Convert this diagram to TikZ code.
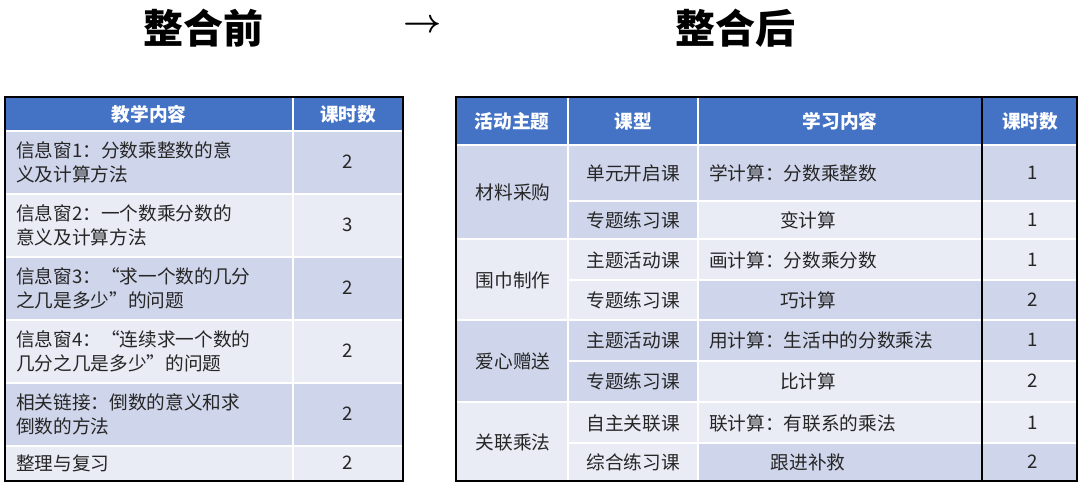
\documentclass[tikz,border=0pt]{standalone}
\usepackage{amsmath}
\usepackage{fontspec}
\setmainfont{Noto Sans CJK SC}
\definecolor{headblue}{HTML}{4472C4}
\definecolor{rowdark}{HTML}{CFD5EA}
\definecolor{rowlight}{HTML}{E9EBF5}
\definecolor{inktext}{HTML}{262626}
\tikzset{
  title/.style={font=\fontsize{30}{32}\selectfont\bfseries},
  head/.style={text=white,font=\fontsize{14}{16}\selectfont\bfseries},
  cell/.style={text=inktext,font=\fontsize{14}{18}\selectfont,inner sep=0pt},
  leftcell/.style={cell,anchor=west,align=left},
  sep/.style={white,line width=1.5pt},
  frame/.style={black,line width=1.6pt}
}
\begin{document}
\begin{tikzpicture}[x=0.75pt,y=-0.75pt]
	\useasboundingbox (0,0) rectangle (1080,488);

	% titles
	\node [title] (before) at (203,28) {整合前};
	\node [title] (arrow) at (423,26) {$\boldsymbol{\rightarrow}$};
	\node [title] (after) at (735,28) {整合后};

	% left table
	\fill [headblue] (5,97) rectangle (403,131);
	\foreach \ya/\yb/\c in {131/194/rowdark,194/257/rowlight,257/320/rowdark,320/383/rowlight,383/446/rowdark,446/481/rowlight}
		\fill [\c] (5,\ya) rectangle (403,\yb);
	\foreach \y in {131,194,257,320,383,446}
		\draw [sep] (5,\y) -- (403,\y);
	\draw [sep] (293,97) -- (293,481);
	\draw [frame] (5,97) rectangle (403,481);

	\node [head] (lh1) at (149,114) {教学内容};
	\node [head] (lh2) at (348,114) {课时数};
	\node [leftcell] (l1) at (16,162) {信息窗1：分数乘整数的意\\义及计算方法};
	\node [leftcell] (l2) at (16,225) {信息窗2：一个数乘分数的\\意义及计算方法};
	\node [leftcell] (l3) at (16,288) {信息窗3：“求一个数的几分\\之几是多少”的问题};
	\node [leftcell] (l4) at (16,351) {信息窗4：“连续求一个数的\\几分之几是多少”的问题};
	\node [leftcell] (l5) at (16,414) {相关链接：倒数的意义和求\\倒数的方法};
	\node [leftcell] (l6) at (16,463) {整理与复习};
	\foreach \y/\n [count=\i] in {162/2,225/3,288/2,351/2,414/2,463/2}
		\node [cell] (ln\i) at (348,\y) {\n};

	% right table
	\fill [headblue] (456,97) rectangle (1077,145);
	% theme and type columns, per group
	\foreach \ya/\yb/\c in {145/239/rowdark,239/320/rowlight,320/402/rowdark,402/481/rowlight}
		\fill [\c] (456,\ya) rectangle (698,\yb);
	% content and hours columns, per row
	\foreach \ya/\yb/\c in {145/201/rowdark,201/239/rowlight,239/280/rowlight,280/320/rowdark,320/361/rowdark,361/402/rowlight,402/443/rowlight,443/481/rowdark}
		\fill [\c] (698,\ya) rectangle (1077,\yb);
	\foreach \y in {201,280,361,443}
		\draw [sep] (568,\y) -- (1077,\y);
	\foreach \y in {145,239,320,402}
		\draw [sep] (456,\y) -- (1077,\y);
	\draw [sep] (568,97) -- (568,481);
	\draw [sep] (698,97) -- (698,481);
	\draw [frame] (982,97) -- (982,481);
	\draw [frame] (456,97) rectangle (1077,481);

	\node [head] (rh1) at (512,121) {活动主题};
	\node [head] (rh2) at (633,121) {课型};
	\node [head] (rh3) at (840,121) {学习内容};
	\node [head] (rh4) at (1030,121) {课时数};

	\foreach \y/\t [count=\i] in {192/材料采购,280/围巾制作,361/爱心赠送,442/关联乘法}
		\node [cell] (theme\i) at (513,\y) {\t};
	\foreach \y/\t [count=\i] in {173/单元开启课,220/专题练习课,260/主题活动课,300/专题练习课,340/主题活动课,381/专题练习课,423/自主关联课,462/综合练习课}
		\node [cell] (type\i) at (633,\y) {\t};
	\node [leftcell] (c1) at (709,173) {学计算：分数乘整数};
	\node [cell] (c2) at (808,220) {变计算};
	\node [leftcell] (c3) at (709,260) {画计算：分数乘分数};
	\node [cell] (c4) at (808,300) {巧计算};
	\node [leftcell] (c5) at (709,340) {用计算：生活中的分数乘法};
	\node [cell] (c6) at (808,381) {比计算};
	\node [leftcell] (c7) at (709,423) {联计算：有联系的乘法};
	\node [cell] (c8) at (808,462) {跟进补救};
	\foreach \y/\n [count=\i] in {173/1,220/1,260/1,300/2,340/1,381/2,423/1,462/2}
		\node [cell] (hours\i) at (1033,\y) {\n};
\end{tikzpicture}
\end{document}
